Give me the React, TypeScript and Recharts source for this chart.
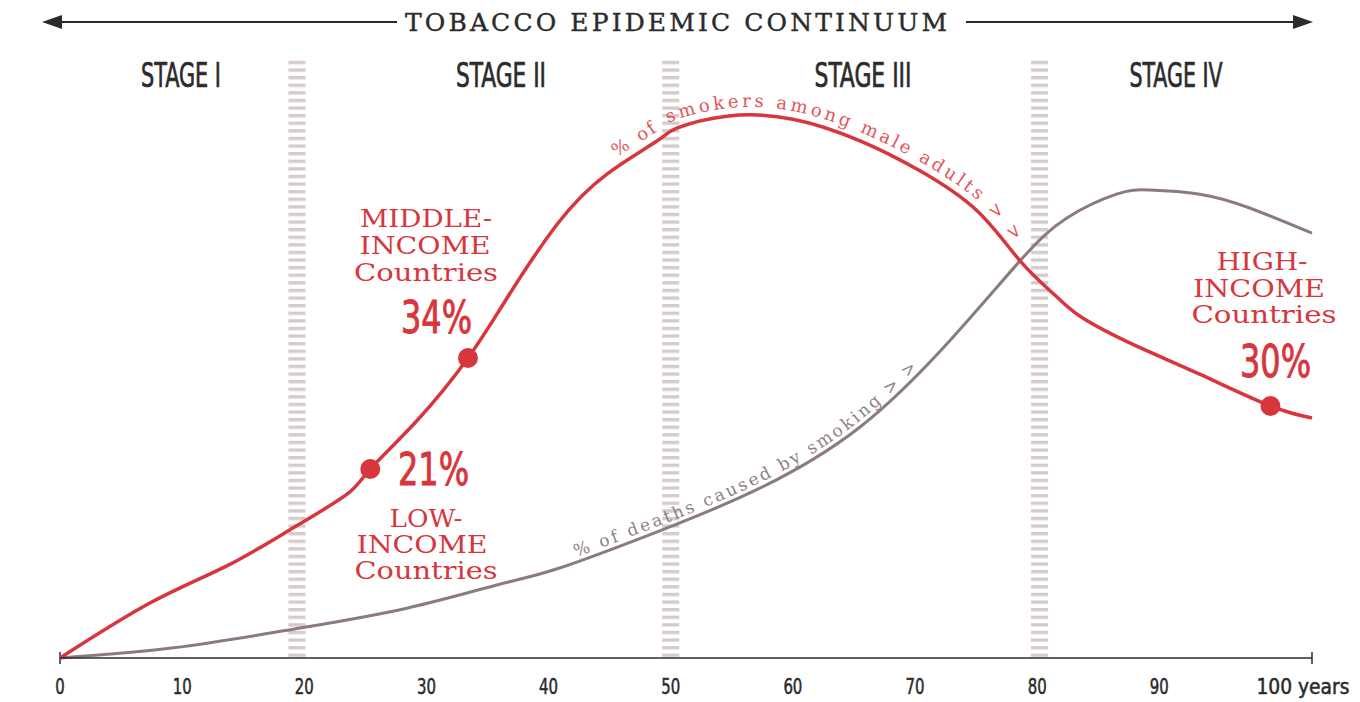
import { ComposedChart, Curve, Line, ReferenceArea, ReferenceLine, Scatter, XAxis, YAxis } from 'recharts'

// years run along x, y is the relative height of each curve (0-100)
const smokerYears = [0, 7.4, 13.7, 19.1, 23.5, 25.4, 29.2, 33.4, 36.6, 40.7, 44.8, 48.9, 50.5, 54.6, 60, 65.5, 70.4, 75.1, 78.6, 81.6, 83.7, 87.8, 93.3, 99.1, 102.5]
const smokerShare = [0, 9.2, 15.4, 21.7, 27.3, 31.5, 39.5, 50, 60, 72.3, 80.7, 86.2, 88.3, 90.3, 89.8, 86.2, 81.2, 74.5, 66.2, 60.2, 56.7, 52.3, 47.3, 42, 40]

const deathYears = [0, 9.3, 19.1, 28.4, 36, 40.9, 49.1, 57.3, 65.5, 72.9, 78.6, 82.4, 86.5, 89.2, 93.3, 97.4, 102.5]
const deathShare = [0, 1.7, 4.8, 8.3, 12.3, 15, 21.2, 28.3, 38.5, 53, 66.2, 73.3, 77.3, 78, 77.3, 75, 70.8]

const markerYears = [25.4, 33.4, 99.1]
const markerShare = [31.5, 50, 42]

const stageBounds = [19.4, 50, 80.2]
const yearTicks = [0, 10, 20, 30, 40, 50, 60, 70, 80, 90, 100]

const smokerData = smokerYears.map((year, i) => ({ year, share: smokerShare[i] }))
const deathData = deathYears.map((year, i) => ({ year, share: deathShare[i] }))
const markerData = markerYears.map((year, i) => ({ year, share: markerShare[i] }))

const RED = '#d7363c'
const GREY = '#8b7b7e'
const INK = '#2b2b2b'
const NARROW = "'Liberation Sans Narrow', 'DejaVu Sans Condensed', 'Roboto Condensed', sans-serif"
const SLAB = "'DejaVu Serif', 'Liberation Serif', serif"

const stages = [
  { name: 'STAGE I', cx: 181, w: 80 },
  { name: 'STAGE II', cx: 501, w: 90 },
  { name: 'STAGE III', cx: 863, w: 97 },
  { name: 'STAGE IV', cx: 1176, w: 93 },
]

const incomeLines = [
  { text: 'MIDDLE-', cx: 426, y: 227, w: 132 },
  { text: 'INCOME', cx: 425, y: 254, w: 131 },
  { text: 'Countries', cx: 426, y: 281, w: 144 },
  { text: 'LOW-', cx: 426, y: 527, w: 73 },
  { text: 'INCOME', cx: 422, y: 553, w: 131 },
  { text: 'Countries', cx: 426, y: 579, w: 143 },
  { text: 'HIGH-', cx: 1262, y: 270, w: 91 },
  { text: 'INCOME', cx: 1259, y: 297, w: 132 },
  { text: 'Countries', cx: 1264, y: 323, w: 145 },
]

const pctLabels = [
  { text: '34%', x: 401, y: 333 },
  { text: '21%', x: 398, y: 485 },
  { text: '30%', x: 1240, y: 377 },
]

function YearTick({ x, y, payload }: any) {
  const last = payload.value === 100
  const label = last ? '100 years' : String(payload.value)
  return (
    <text x={last ? x - 25 : x} y={y + 28} textAnchor={last ? 'start' : 'middle'} fontFamily={NARROW} fontSize={21} fill={INK}
      stroke={INK} strokeWidth={0.5} textLength={last ? 93 : label.length * 9.5} lengthAdjust="spacingAndGlyphs">
      {label}
    </text>
  )
}

// draws text along the line, using the line's own points
const pathText = (id: string, text: string, color: string, offset: number, dy: number, size: number, spacing: number) => (props: any) => {
  if (props.index !== 0 || !props.points) return <g key={props.key} />
  return (
    <g key={props.key}>
      <Curve id={id} type="natural" points={props.points} stroke="none" fill="none" />
      <text fontFamily={SLAB} fontSize={size} letterSpacing={spacing} fill={color} dy={dy}>
        <textPath href={`#${id}`} startOffset={offset}>{text}</textPath>
      </text>
    </g>
  )
}

export default function App() {
  return (
    <div style={{ position: 'absolute', left: 0, top: 0, width: 1360, height: 702, background: '#fff' }}>
      <ComposedChart width={1360} height={702} margin={{ top: 58, right: 48, bottom: 0, left: 60 }}>
        <defs>
          <pattern id="stageHatch" width="8" height="7.6" patternUnits="userSpaceOnUse">
            <rect width="8" height="3.4" fill="#d5cbcc" />
          </pattern>
        </defs>
        <XAxis dataKey="year" type="number" domain={[0, 102.5]} ticks={yearTicks} height={44} tick={<YearTick />}
          tickLine={false} axisLine={{ stroke: INK, strokeWidth: 1.5 }} />
        <YAxis type="number" domain={[0, 100]} hide />
        {stageBounds.map(b => (
          <ReferenceArea key={b} x1={b - 0.7} x2={b + 0.7} y1={0} y2={99.7} fill="url(#stageHatch)" fillOpacity={1} stroke="none" ifOverflow="visible" />
        ))}
        <ReferenceLine segment={[{ x: 0, y: -1 }, { x: 0, y: 1 }]} stroke={INK} strokeWidth={1.5} ifOverflow="visible" />
        <ReferenceLine segment={[{ x: 102.5, y: -1 }, { x: 102.5, y: 1 }]} stroke={INK} strokeWidth={1.5} ifOverflow="visible" />
        <Line data={deathData} dataKey="share" type="natural" stroke={GREY} strokeWidth={3} isAnimationActive={false}
          dot={pathText('deathPath', '% of deaths caused by smoking > >', '#8e7f82', 528, -5, 17, 2.7)} activeDot={false} />
        <Line data={smokerData} dataKey="share" type="natural" stroke={RED} strokeWidth={3.5} isAnimationActive={false}
          dot={pathText('smokerPath', '% of smokers among male adults > >', '#e4545a', 762, -8, 18, 2.9)} activeDot={false} />
        <Scatter data={markerData} dataKey="share" isAnimationActive={false}
          shape={(p: any) => <circle cx={p.cx} cy={p.cy} r={10} fill={RED} />} />

        {/* title with arrows */}
        <line x1={58} y1={22} x2={397} y2={22} stroke={INK} strokeWidth={2} />
        <polygon points="42,22 62,15 62,29" fill={INK} />
        <line x1={966} y1={22} x2={1296} y2={22} stroke={INK} strokeWidth={2} />
        <polygon points="1313,22 1293,15 1293,29" fill={INK} />
        <text x={405} y={31} fontFamily={SLAB} fontSize={25} fill={INK} stroke={INK} strokeWidth={0.4}
          textLength={542} lengthAdjust="spacing">TOBACCO EPIDEMIC CONTINUUM</text>

        {stages.map(s => (
          <text key={s.name} x={s.cx} y={87} textAnchor="middle" fontFamily={NARROW} fontSize={34} fill={INK}
            stroke={INK} strokeWidth={0.7} textLength={s.w} lengthAdjust="spacingAndGlyphs">{s.name}</text>
        ))}
        {incomeLines.map((l, i) => (
          <text key={i} x={l.cx} y={l.y} textAnchor="middle" fontFamily={SLAB} fontSize={24} fill={RED}
            textLength={l.w} lengthAdjust="spacingAndGlyphs">{l.text}</text>
        ))}
        {pctLabels.map(p => (
          <text key={p.text} x={p.x} y={p.y} fontFamily={NARROW} fontSize={45} fill={RED}
            stroke={RED} strokeWidth={0.9} textLength={71} lengthAdjust="spacingAndGlyphs">{p.text}</text>
        ))}
      </ComposedChart>
    </div>
  )
}
